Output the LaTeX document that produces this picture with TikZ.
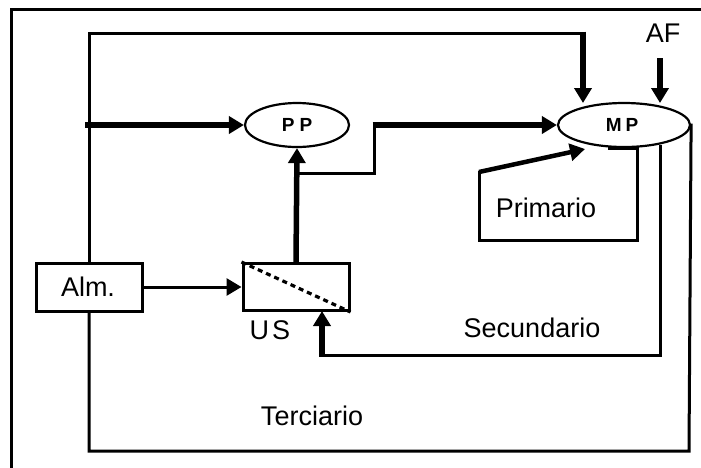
\documentclass[tikz,border=0pt]{standalone}
\usepackage{fontspec}
\setmainfont{Liberation Sans}
\usetikzlibrary{arrows.meta,shapes.geometric}
\begin{document}
\begin{tikzpicture}[x=1pt,y=-1pt,
  thin line/.style={line width=3pt,line cap=rect},
  thick line/.style={line width=5.5pt},
  tip/.style={-{Triangle[length=15pt,width=17pt]}},
  ell/.style={ellipse,draw,line width=2.2pt,inner sep=0pt},
  boxed/.style={rectangle,draw,line width=3pt,inner sep=0pt},
  lbl/.style={font=\fontsize{27}{27}\selectfont,inner sep=0pt},
  small/.style={font=\fontsize{19}{19}\selectfont\bfseries,inner sep=0pt}]
\useasboundingbox (0,0) rectangle (701,467);
\fill[white] (0,0) rectangle (701,467);
% outer frame (cropped)
\draw[thin line] (11,480) -- (11,9) -- (720,9);
% nodes
\node[ell,minimum width=104pt,minimum height=44pt] (PP) at (297,125) {};
\node[small] at (297,125) {P\hspace{5pt}P};
\node[ell,minimum width=132pt,minimum height=44pt] (MP) at (624,125) {};
\node[small] at (622,125) {M\hspace{4pt}P};
\node[boxed,minimum width=106pt,minimum height=48pt] (Alm) at (89,287) {};
\node[lbl] at (88,287) {Alm.};
\node[boxed,minimum width=106pt,minimum height=47pt] (US) at (296,287) {};
\draw[line width=3.2pt,dash pattern=on 5pt off 4pt] (US.north west) -- (US.south east);
\node[lbl] (uslbl) at (270,330) {U\hspace{3pt}S};
\node[lbl] (AF) at (663,33) {AF};
\node[lbl] (prim) at (546,208) {Primario};
\node[lbl] (sec) at (532,328) {Secundario};
\node[lbl] (ter) at (312,416) {Terciario};
% coordinates
\coordinate (inL) at (85,125);
\coordinate (br1) at (297,173);
\coordinate (br2) at (374,173);
\coordinate (br3) at (374,125);
\coordinate (br3a) at (372.5,125);
\coordinate (t1) at (689,451);
\coordinate (t2) at (89,451);
\coordinate (t3) at (89,33);
\coordinate (t4) at (583,33);
\coordinate (t4a) at (583,31.5);
\coordinate (t5) at (583,103);
\coordinate (af1) at (660,58);
\coordinate (af2) at (660,103);
\coordinate (p0) at (608,148);
\coordinate (p1) at (637,148);
\coordinate (p2) at (637,240);
\coordinate (p3) at (479,240);
\coordinate (p4) at (479,172);
\coordinate (p5) at (585,149);
\coordinate (s0) at (660,146);
\coordinate (s1) at (660,355);
\coordinate (s2) at (322,355);
\coordinate (s2a) at (322,356.5);
\coordinate (s4) at (322,311);
% connectors
\draw[thick line,tip] (inL) -- (PP.west);
\draw[thin line,tip] (Alm.east) -- (US.west);
\draw[thick line,tip] (US.north) -- (PP.south);
\draw[thin line] (br1) -- (br2) -- (br3);
\draw[thick line,tip] (br3a) -- (MP.west);
% terciario loop
\draw[thin line] (MP.east) -- (t1) -- (t2) -- (Alm.south);
\draw[thin line] (Alm.north) -- (t3) -- (t4);
\draw[thick line,tip] (t4a) -- (t5);
% AF
\draw[thick line,tip] (af1) -- (af2);
% primario loop
\draw[line width=4.5pt] (p0) -- (p1);
\draw[thin line] (p1) -- (p2) -- (p3) -- (p4);
\draw[line width=4.5pt,tip] (p4) -- (p5);
% secundario loop
\draw[thin line] (s0) -- (s1) -- (s2);
\draw[thick line,tip] (s2a) -- (s4);
\end{tikzpicture}
\end{document}
